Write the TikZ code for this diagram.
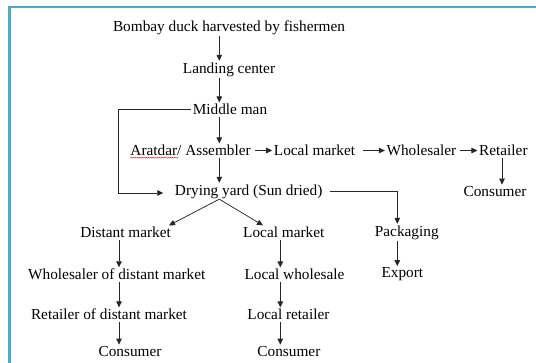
\documentclass[tikz,border=0pt]{standalone}
\usepackage{fontspec}
\setmainfont{Liberation Serif}
\usetikzlibrary{arrows.meta,positioning,calc,decorations.pathmorphing}
\definecolor{framecol}{RGB}{75,172,198}
\tikzset{
  stage/.style={inner sep=1.5pt, font=\fontsize{15.3}{17}\selectfont},
  arrow/.style={-{Triangle[length=6pt,width=5.5pt]}, line width=0.75pt, black!85},
  link/.style={line width=0.75pt, black!85},
}

\begin{document}
\begin{tikzpicture}[x=1pt, y=-1pt]
\useasboundingbox (0,0) rectangle (536,362);

% -------------------- Frame --------------------
\draw[line width=2.8pt, framecol] (9.6,370) -- (9.6,7) -- (545,7);

% -------------------- Harvest chain --------------------
\node[stage] (harvest) at (229,27.5) {Bombay duck harvested by fishermen};
\node[stage] (landing) at (229,69.5) {Landing center};
\node[stage] (middle)  at (230,109.5) {Middle man};
\node[stage] (arat)    at (190.6,150.5) {Aratdar/ Assembler};
\node[stage] (locmkt)  at (314.5,150.5) {Local market};
\node[stage] (whsale)  at (421.4,150.5) {Wholesaler};
\node[stage] (retail)  at (503.4,150.5) {Retailer};
\node[stage] (consr)   at (495,191.5) {Consumer};
\node[stage] (dry)     at (248.7,191.5) {Drying yard (Sun dried)};

\coordinate (main) at (219.3,0);

\draw[arrow] (harvest.south -| main) -- (landing.north -| main);
\draw[arrow] (landing.south -| main) -- (middle.north -| main);
\draw[arrow] (middle.south -| main) -- (arat.north -| main);
\draw[arrow] (arat.south -| main) -- (dry.north -| main);

% spell-check squiggle under the first word
\draw[red!85!black, line width=0.35pt, decorate,
      decoration={snake, amplitude=0.5pt, segment length=2.2pt}]
  ([xshift=1.5pt,yshift=-2pt]arat.base west) -- ++(48,0);

\draw[arrow, shorten <=3pt] (arat.east) -- (locmkt.west);
\draw[arrow, shorten <=6pt] (locmkt.east) -- (whsale.west);
\draw[arrow, shorten <=2pt] (whsale.east) -- (retail.west);
\draw[arrow] (retail.south -| 502,0) -- (consr.north -| 502,0);

% bypass from the middle man straight to drying
\draw[arrow, shorten >=10pt] (middle.west) -- (118,109.5) |- ([yshift=-1.5pt]dry.west);

% -------------------- Dried fish outlets --------------------
\node[stage] (pack)    at (406.8,232.5) {Packaging};
\node[stage] (distmkt) at (125.6,232.5) {Distant market};
\node[stage] (locmkt2) at (283.8,232.5) {Local market};

\coordinate (split) at ($(dry.south -| main)+(0,-1)$);
\coordinate (colC) at (397.3,0);

\draw[arrow, shorten <=6pt] (dry.east) -| (pack.north -| colC);
\draw[arrow] (split) -- (distmkt.north -| 169,0);
\draw[arrow] (split) -- (locmkt2.north -| 263,0);

% -------------------- Lower columns --------------------
\node[stage] (distwh)  at (116.8,274.5) {Wholesaler of distant market};
\node[stage] (locwh)   at (294.5,274.5) {Local wholesale};
\node[stage] (export)  at (402.4,274.5) {Export};
\node[stage] (distrt)  at (109,314.5) {Retailer of distant market};
\node[stage] (locrt)   at (288.4,314.5) {Local retailer};
\node[stage] (cons1)   at (130,351.5) {Consumer};
\node[stage] (cons2)   at (288.9,351.5) {Consumer};

\coordinate (colA) at (119,0);
\coordinate (colB) at (280.3,0);

\draw[arrow] (distmkt.south -| colA) -- (distwh.north -| colA);
\draw[arrow] (distwh.south -| colA) -- (distrt.north -| colA);
\draw[arrow] (distrt.south -| colA) -- (cons1.north -| colA);

\draw[arrow] (locmkt2.south -| colB) -- (locwh.north -| colB);
\draw[arrow] (locwh.south -| colB) -- (locrt.north -| colB);
\draw[arrow] (locrt.south -| colB) -- (cons2.north -| colB);

\draw[arrow] (pack.south -| colC) -- (export.north -| colC);

\end{tikzpicture}
\end{document}
